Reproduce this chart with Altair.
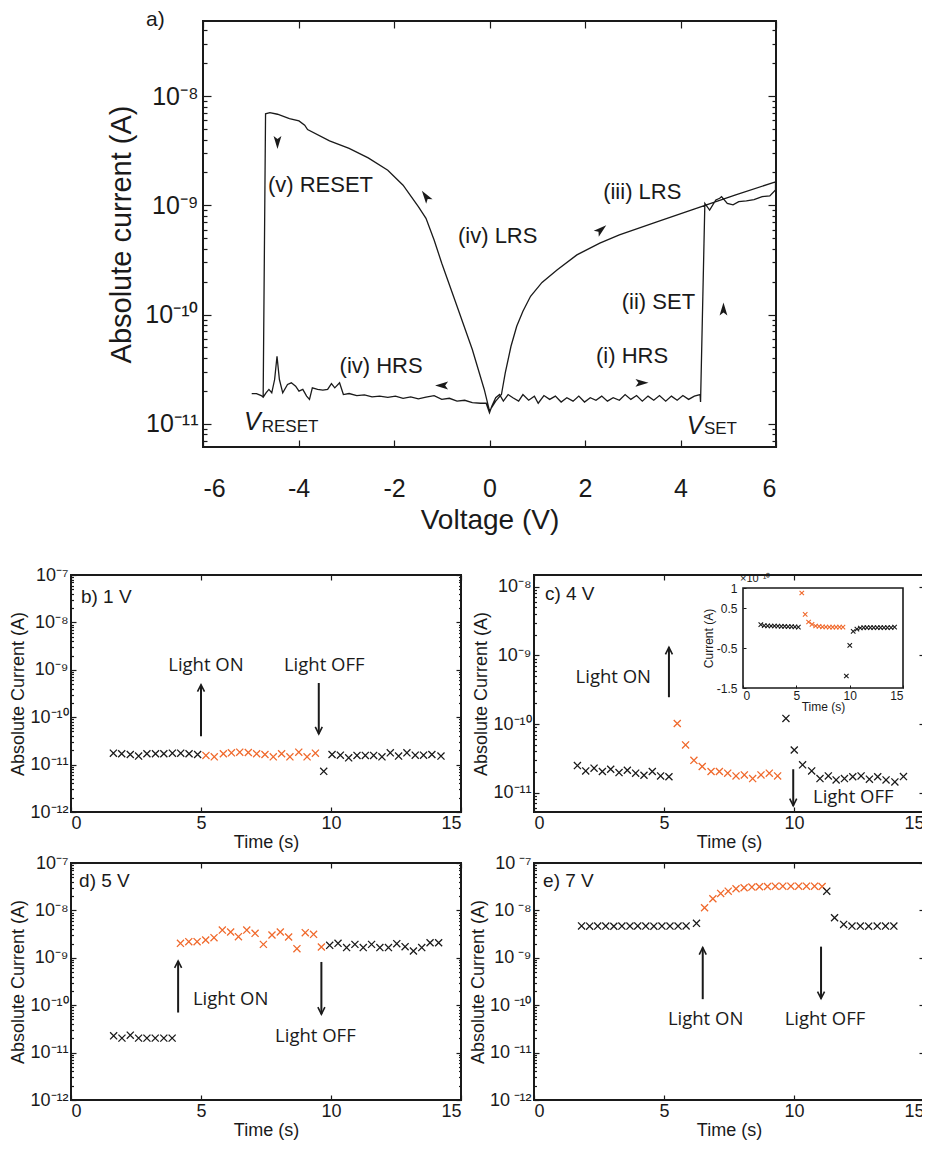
import altair as alt
import pandas as pd

# ------------------------------------------------------------------
# (a) I-V sweep, read off the picture, in measurement order
# ------------------------------------------------------------------
NEG_HRS_V = [-4.98, -4.88, -4.78, -4.74, -4.68, -4.62, -4.56, -4.50, -4.45, -4.40,
             -4.33, -4.23, -4.15, -4.06, -3.99, -3.91, -3.83, -3.77, -3.71, -3.60,
             -3.49, -3.39, -3.31, -3.24, -3.14, -3.06, -2.94, -2.78, -2.62, -2.46,
             -2.30, -2.13, -1.97, -1.81, -1.65, -1.49, -1.33, -1.16, -1.00, -0.84,
             -0.68, -0.52, -0.36, -0.19, -0.07, 0.0]
NEG_HRS_I = [1.89e-11, 1.89e-11, 1.81e-11, 1.75e-11, 1.92e-11, 2.06e-11, 1.92e-11, 2.54e-11, 4.15e-11, 2.54e-11,
             1.92e-11, 2.29e-11, 2.37e-11, 2.21e-11, 1.99e-11, 2.06e-11, 1.79e-11, 1.67e-11, 2.13e-11, 2.06e-11,
             2.03e-11, 2.06e-11, 2.33e-11, 2.13e-11, 2.37e-11, 1.85e-11, 1.89e-11, 1.81e-11, 1.84e-11, 1.76e-11,
             1.79e-11, 1.74e-11, 1.79e-11, 1.71e-11, 1.76e-11, 1.69e-11, 1.75e-11, 1.81e-11, 1.67e-11, 1.71e-11,
             1.61e-11, 1.64e-11, 1.56e-11, 1.54e-11, 1.54e-11, 1.26e-11]
POS_HRS_V = [0.05, 0.13, 0.21, 0.29, 0.39, 0.49, 0.61, 0.70, 0.82, 0.94,
             1.02, 1.14, 1.26, 1.38, 1.50, 1.62, 1.75, 1.87, 1.99, 2.11,
             2.23, 2.35, 2.47, 2.59, 2.72, 2.84, 2.96, 3.08, 3.20, 3.32,
             3.44, 3.56, 3.69, 3.81, 3.93, 4.05, 4.17, 4.29, 4.41, 4.42]
POS_HRS_I = [1.45e-11, 1.73e-11, 1.85e-11, 1.61e-11, 1.85e-11, 1.73e-11, 1.61e-11, 1.85e-11, 1.64e-11, 1.79e-11,
             1.54e-11, 1.81e-11, 1.67e-11, 1.79e-11, 1.58e-11, 1.73e-11, 1.61e-11, 1.79e-11, 1.58e-11, 1.73e-11,
             1.64e-11, 1.79e-11, 1.61e-11, 1.73e-11, 1.64e-11, 1.85e-11, 1.67e-11, 1.81e-11, 1.61e-11, 1.79e-11,
             1.64e-11, 1.81e-11, 1.61e-11, 1.79e-11, 1.64e-11, 1.81e-11, 1.67e-11, 1.79e-11, 1.85e-11, 1.58e-11]
SET_V = [4.51, 4.61, 4.74, 4.82, 4.86, 4.98, 5.10, 5.22, 5.38, 5.54, 5.71, 5.87, 5.99]
SET_I = [1.04e-9, 9.06e-10, 1.12e-9, 1.16e-9, 1.20e-9, 1.04e-9, 1.01e-9, 1.08e-9, 1.10e-9, 1.13e-9,
         1.20e-9, 1.22e-9, 1.38e-9]
LRS_POS_V = [5.99, 5.14, 4.33, 3.52, 2.72, 2.31, 1.83, 1.42, 1.10, 0.86, 0.70, 0.57, 0.45, 0.33, 0.25, 0.13, 0.0]
LRS_POS_I = [1.64e-9, 1.24e-9, 9.39e-10, 7.09e-10, 5.36e-10, 4.50e-10, 3.52e-10, 2.57e-10, 1.97e-10,
             1.47e-10, 1.07e-10, 7.80e-11, 5.12e-11, 2.92e-11, 1.85e-11, 1.61e-11, 1.31e-11]
LRS_NEG_V = [-0.11, -0.36, -0.68, -1.00, -1.16, -1.33, -1.49, -1.81, -2.13, -2.54,
             -2.94, -3.35, -3.81, -3.87, -3.99, -4.19, -4.44, -4.60, -4.69, -4.74]
LRS_NEG_I = [2.06e-11, 4.78e-11, 1.19e-10, 2.95e-10, 4.82e-10, 7.60e-10, 9.72e-10, 1.53e-9, 2.10e-9, 2.72e-9,
             3.32e-9, 3.90e-9, 4.94e-9, 5.42e-9, 5.93e-9, 6.23e-9, 6.83e-9, 7.07e-9, 6.90e-9, 1.75e-11]

A_ARROW_V = [-4.44, -1.33, 2.33, 4.90, 3.18, -0.99]
A_ARROW_I = [3.81e-9, 1.20e-9, 5.96e-10, 1.11e-10, 2.37e-11, 2.24e-11]
A_ARROW_ANG = [180, 325, 50, 0, 90, 270]

A_LAB_TEXT = ["(v) RESET", "(iv) LRS", "(iii) LRS", "(ii) SET", "(i) HRS", "(iv) HRS"]
A_LAB_V = [-4.64, -0.66, 2.38, 2.77, 2.23, -3.14]
A_LAB_I = [1.53e-9, 5.25e-10, 1.33e-9, 1.29e-10, 4.21e-11, 3.41e-11]
A_VSYM_V = [-5.14, 4.13]
A_VSYM_I = [1.04e-11, 9.5e-12]
A_SUB_TEXT = ["RESET", "SET"]
A_SUB_V = [-4.77, 4.49]
A_SUB_I = [9.3e-12, 8.9e-12]

A_XTICKS = [-6, -4, -2, 0, 2, 4, 6]
A_EXPS = [-8, -9, -10, -11]
A_YDOM = [6.12e-12, 4.88e-8]

# ------------------------------------------------------------------
# (b)-(e) photo-response time traces
# ------------------------------------------------------------------
T_TICKS = [0, 5, 10, 15]

B_TIME = [1.63, 1.95, 2.28, 2.60, 2.92, 3.25, 3.57, 3.90, 4.22, 4.54, 4.87,
          5.19, 5.51, 5.86, 6.17, 6.49, 6.82, 7.14, 7.46, 7.78, 8.10, 8.42, 8.76, 9.08, 9.40,
          9.72, 10.04, 10.36, 10.68, 11.00, 11.32, 11.64, 11.96, 12.28, 12.60, 12.92, 13.24, 13.56, 13.88, 14.23]
B_CURR = [1.74e-11, 1.69e-11, 1.63e-11, 1.51e-11, 1.69e-11, 1.69e-11, 1.69e-11, 1.74e-11, 1.74e-11, 1.69e-11, 1.63e-11,
          1.56e-11, 1.46e-11, 1.69e-11, 1.77e-11, 1.83e-11, 1.80e-11, 1.69e-11, 1.63e-11, 1.46e-11, 1.69e-11, 1.46e-11,
          1.83e-11, 1.46e-11, 1.74e-11,
          7.2e-12, 1.63e-11, 1.58e-11, 1.39e-11, 1.56e-11, 1.56e-11, 1.56e-11, 1.46e-11, 1.77e-11, 1.51e-11, 1.77e-11,
          1.58e-11, 1.58e-11, 1.63e-11, 1.51e-11]
B_STATE = ["dark"] * 11 + ["light"] * 14 + ["dark"] * 15
B_ARROW_T = [5.0, 9.53]
B_ARROW_FROM = [3.97e-11, 5.26e-10]
B_ARROW_TO = [4.85e-10, 4.45e-11]
B_TEXT_T = [5.19, 9.74]
B_TEXT_I = [1.28e-9, 1.28e-9]

C_TIME = [1.67, 1.99, 2.31, 2.63, 2.95, 3.27, 3.59, 3.91, 4.23, 4.55, 4.87, 5.19,
          5.51, 5.83, 6.15, 6.47, 6.81, 7.13, 7.45, 7.77, 8.09, 8.41, 8.73, 9.05, 9.37,
          9.69, 10.01, 10.33, 10.68, 11.00, 11.32, 11.62, 11.94, 12.26, 12.58, 12.90, 13.22, 13.54, 13.88, 14.21]
C_CURR = [2.49e-11, 2.08e-11, 2.28e-11, 2.04e-11, 2.20e-11, 1.97e-11, 2.13e-11, 1.93e-11, 1.80e-11, 2.04e-11,
          1.76e-11, 1.71e-11,
          1.02e-10, 4.97e-11, 2.97e-11, 2.41e-11, 2.04e-11, 2.04e-11, 1.93e-11, 1.76e-11, 1.82e-11, 1.61e-11,
          1.82e-11, 1.93e-11, 1.76e-11,
          1.21e-10, 4.20e-11, 2.55e-11, 2.08e-11, 1.61e-11, 1.76e-11, 1.54e-11, 1.61e-11, 1.71e-11, 1.76e-11,
          1.58e-11, 1.71e-11, 1.54e-11, 1.44e-11, 1.72e-11]
C_STATE = ["dark"] * 12 + ["light"] * 13 + ["dark"] * 15
C_INSET = [0.083, 0.06, 0.055, 0.05, 0.05, 0.045, 0.04, 0.04, 0.035, 0.035, 0.03, 0.02,
           0.875, 0.342, 0.15, 0.09, 0.05, 0.04, 0.03, 0.025, 0.02, 0.02, 0.02, 0.02, 0.02,
           -1.2, -0.433, -0.083, -0.03, 0.0, 0.01, 0.01, 0.01, 0.01, 0.01, 0.01, 0.01, 0.01, 0.01, 0.02]
C_ARROW_T = [5.19, 9.97]
C_ARROW_FROM = [2.46e-10, 2.20e-11]
C_ARROW_TO = [1.31e-9, 6.49e-12]
C_TEXT_T = [3.05, 12.28]
C_TEXT_I = [4.8e-10, 8.75e-12]
C_YDOM = [5.25e-12, 1.48e-8]
C_EXPS = [-8, -9, -10, -11]

D_TIME = [1.64, 1.96, 2.28, 2.60, 2.92, 3.24, 3.57, 3.89,
          4.21, 4.53, 4.85, 5.18, 5.50, 5.82, 6.14, 6.44, 6.76, 7.08, 7.40, 7.73, 8.05, 8.37, 8.69, 9.01,
          9.33, 9.63,
          9.95, 10.27, 10.60, 10.92, 11.24, 11.56, 11.88, 12.21, 12.53, 12.85, 13.17, 13.49, 13.81, 14.14]
D_CURR = [2.26e-11, 2.02e-11, 2.33e-11, 2.02e-11, 2.02e-11, 2.02e-11, 2.02e-11, 2.02e-11,
          2.02e-9, 2.19e-9, 2.19e-9, 2.37e-9, 2.66e-9, 3.85e-9, 3.50e-9, 2.79e-9, 3.85e-9, 3.28e-9, 1.92e-9,
          3.03e-9, 3.50e-9, 2.75e-9, 1.56e-9, 3.39e-9, 3.13e-9, 1.69e-9,
          1.83e-9, 2.02e-9, 1.64e-9, 1.92e-9, 1.64e-9, 1.92e-9, 1.64e-9, 1.64e-9, 1.99e-9, 1.72e-9, 1.39e-9,
          1.64e-9, 2.08e-9, 2.08e-9]
D_STATE = ["dark"] * 8 + ["light"] * 18 + ["dark"] * 14
D_ARROW_T = [4.12, 9.63]
D_ARROW_FROM = [7.0e-11, 8.17e-10]
D_ARROW_TO = [8.57e-10, 6.47e-11]
D_TEXT_T = [6.14, 9.40]
D_TEXT_I = [1.38e-10, 2.19e-11]

E_TIME = [1.83, 2.14, 2.45, 2.76, 3.07, 3.38, 3.69, 3.99, 4.30, 4.61, 4.92, 5.23, 5.54, 5.85, 6.25,
          6.56, 6.88, 7.18, 7.47, 7.77, 8.08, 8.38, 8.67, 8.98, 9.28, 9.57, 9.88, 10.18, 10.48, 10.79, 11.08,
          11.26, 11.56, 11.91, 12.23, 12.55, 12.87, 13.20, 13.52, 13.84]
E_CURR = [4.70e-9, 4.65e-9, 4.67e-9, 4.67e-9, 4.62e-9, 4.67e-9, 4.67e-9, 4.70e-9, 4.67e-9, 4.65e-9,
          4.67e-9, 4.67e-9, 4.67e-9, 4.70e-9, 5.33e-9,
          1.14e-8, 1.76e-8, 2.28e-8, 2.55e-8, 2.86e-8, 3.00e-8, 3.10e-8, 3.15e-8, 3.20e-8, 3.25e-8,
          3.25e-8, 3.25e-8, 3.25e-8, 3.25e-8, 3.25e-8, 3.20e-8,
          2.55e-8, 7.01e-9, 5.07e-9, 4.67e-9, 4.67e-9, 4.65e-9, 4.67e-9, 4.67e-9, 4.67e-9]
E_STATE = ["dark"] * 15 + ["light"] * 16 + ["dark"] * 9
E_ARROW_T = [6.49, 11.04]
E_ARROW_FROM = [1.34e-10, 1.72e-9]
E_ARROW_TO = [1.64e-9, 1.38e-10]
E_TEXT_T = [6.60, 11.19]
E_TEXT_I = [5.07e-11, 5.07e-11]

LIGHT_TEXT = ["Light ON", "Light OFF"]
LIGHT_ANG = [0, 180]
BIG_YDOM = [1e-12, 1e-7]
BIG_EXPS = [-7, -8, -9, -10, -11, -12]

# ------------------------------------------------------------------
# styling helpers
# ------------------------------------------------------------------
FONT = "Liberation Sans"
LFONT = "Open Sans"
INK = "#1a1a1a"
ORANGE = "#F0692C"
XSHAPE = "M-1,-1L1,1M1,-1L-1,1"
CHEV = "M-0.7,1.4L0,0L0.7,1.4"
HEAD = "M0,-1.1L0.6,0.9L0,0.45L-0.6,0.9Z"
SUP = {"-": "\u207b", "0": "\u2070", "1": "\u00b9", "2": "\u00b2", "3": "\u00b3", "4": "\u2074",
       "5": "\u2075", "6": "\u2076", "7": "\u2077", "8": "\u2078", "9": "\u2079"}
NUM_EXPR = "'' + datum.value"


def pow_expr(exps, gap=""):
    parts = []
    for e in exps:
        s = "".join(SUP[c] for c in str(e))
        parts.append("abs(log(datum.value)/LN10 - (%d)) < 0.01 ? '10%s%s'" % (e, gap, s))
    return " : ".join(parts) + " : ''"


def minor_vals(lo, hi):
    out = []
    for e in range(-13, -6):
        for m in range(2, 10):
            v = float("%de%d" % (m, e))
            if lo < v < hi:
                out.append(v)
    return out


def axis(orient, values, ts, labels=False, fs=18, lp=3, expr=NUM_EXPR, title=None, tfs=18, tp=2,
         off=None, z=0):
    kw = dict(orient=orient, values=values, tickSize=ts, offset=(-ts if off is None else off),
              domain=False, grid=False, ticks=True, tickColor=INK, tickWidth=1.2, labels=labels,
              zindex=z)
    if labels:
        kw.update(labelFont=FONT, labelFontSize=fs, labelColor=INK, labelPadding=lp,
                  labelOverlap=False, labelExpr=expr)
    if title is None:
        kw["title"] = None
    else:
        kw.update(title=title, titleFont=FONT, titleFontSize=tfs, titleColor=INK,
                  titleFontWeight="normal", titlePadding=tp)
    return alt.Axis(**kw)


def frame(xs, ys, px, py, xvals, yvals, ymin, ts, tsm):
    d = pd.DataFrame({"fx": [px], "fy": [py]})
    base = alt.Chart(d).mark_point(opacity=0)
    out = [base.encode(x=alt.X("fx:Q", scale=xs, axis=axis("top", xvals, ts)),
                       y=alt.Y("fy:Q", scale=ys, axis=axis("right", yvals, ts)))]
    out.append(base.encode(x=alt.X("fx:Q", scale=xs, axis=None),
                           y=alt.Y("fy:Q", scale=ys, axis=axis("left", ymin, tsm))))
    out.append(base.encode(x=alt.X("fx:Q", scale=xs, axis=None),
                           y=alt.Y("fy:Q", scale=ys, axis=axis("right", ymin, tsm))))
    return out


STATE_COLOR = alt.Color("s:N", scale=alt.Scale(domain=["dark", "light"], range=[INK, ORANGE]), legend=None)

# layout (pixels)
W, H = 390, 237            # lower panels
A_CELL, A_H = 390, 426     # panel (a): grid cell width and plot height
A_LEFT, A_RIGHT = 132, 705 # panel (a) plot extent inside its cell
ROW_GAP = 51

# ------------------------------------------------------------------
# panel (a)
# ------------------------------------------------------------------
iv_v = NEG_HRS_V + POS_HRS_V + SET_V + LRS_POS_V + LRS_NEG_V
iv_i = NEG_HRS_I + POS_HRS_I + SET_I + LRS_POS_I + LRS_NEG_I
df_iv = pd.DataFrame({"v": iv_v, "i": iv_i, "k": list(range(len(iv_v)))})
xs_a = alt.Scale(domain=[-6, 6], range=[A_LEFT, A_RIGHT], nice=False, zero=False)
ys_a = alt.Scale(type="log", domain=A_YDOM, nice=False)
A_YTICKS = [10.0 ** e for e in A_EXPS]
A_MINOR = minor_vals(*A_YDOM)

line_a = alt.Chart(df_iv).mark_line(color=INK, strokeWidth=1.3).encode(
    x=alt.X("v:Q", scale=xs_a, axis=axis("bottom", A_XTICKS, 7, labels=True, fs=25, lp=29,
                                         title="Voltage (V)", tfs=28, tp=5)),
    y=alt.Y("i:Q", scale=ys_a, axis=axis("left", A_YTICKS, 8, labels=True, fs=25, lp=5,
                                         expr=pow_expr(A_EXPS), title="Absolute current (A)",
                                         tfs=29, tp=8, off=-(A_LEFT + 8))),
    order="k:Q")

a_box = alt.Chart(pd.DataFrame({"x0": [-6], "x1": [6], "y0": [A_YDOM[0]], "y1": [A_YDOM[1]]})).mark_rect(
    fill="transparent", stroke=INK, strokeWidth=2).encode(
    x=alt.X("x0:Q", scale=xs_a, axis=None), x2="x1:Q",
    y=alt.Y("y0:Q", scale=ys_a, axis=None), y2="y1:Q")

a_base = alt.Chart(pd.DataFrame({"fx": [0], "fy": [1e-10]})).mark_point(opacity=0)
a_top = a_base.encode(
    x=alt.X("fx:Q", scale=xs_a, axis=axis("top", A_XTICKS, 7)),
    y=alt.Y("fy:Q", scale=ys_a, axis=axis("right", A_YTICKS, 8, off=A_RIGHT - A_CELL - 8)))
a_minl = a_base.encode(
    x=alt.X("fx:Q", scale=xs_a, axis=None),
    y=alt.Y("fy:Q", scale=ys_a, axis=axis("left", A_MINOR, 4, off=-(A_LEFT + 4))))
a_minr = a_base.encode(
    x=alt.X("fx:Q", scale=xs_a, axis=None),
    y=alt.Y("fy:Q", scale=ys_a, axis=axis("right", A_MINOR, 4, off=A_RIGHT - A_CELL - 4)))

heads_a = alt.Chart(pd.DataFrame({"v": A_ARROW_V, "i": A_ARROW_I, "a": A_ARROW_ANG})).mark_point(
    shape=HEAD, filled=True, size=170, color=INK, opacity=1, strokeWidth=0).encode(
    x=alt.X("v:Q", scale=xs_a, axis=None), y=alt.Y("i:Q", scale=ys_a, axis=None),
    angle=alt.Angle("a:Q", scale=None))

labs_a = alt.Chart(pd.DataFrame({"v": A_LAB_V, "i": A_LAB_I, "t": A_LAB_TEXT})).mark_text(
    font=FONT, fontSize=22, color=INK, align="left", baseline="middle").encode(
    x=alt.X("v:Q", scale=xs_a, axis=None), y=alt.Y("i:Q", scale=ys_a, axis=None), text="t:N")

vsym_a = alt.Chart(pd.DataFrame({"v": A_VSYM_V, "i": A_VSYM_I, "t": ["V", "V"]})).mark_text(
    font=FONT, fontSize=25, fontStyle="italic", color=INK, align="left", baseline="middle").encode(
    x=alt.X("v:Q", scale=xs_a, axis=None), y=alt.Y("i:Q", scale=ys_a, axis=None), text="t:N")

sub_a = alt.Chart(pd.DataFrame({"v": A_SUB_V, "i": A_SUB_I, "t": A_SUB_TEXT})).mark_text(
    font=FONT, fontSize=17, color=INK, align="left", baseline="middle").encode(
    x=alt.X("v:Q", scale=xs_a, axis=None), y=alt.Y("i:Q", scale=ys_a, axis=None), text="t:N")

panel_a = alt.layer(
    line_a, a_box, a_top, a_minl, a_minr, heads_a, labs_a, vsym_a, sub_a
).resolve_axis(x="independent", y="independent").properties(
    width=A_CELL, height=A_H, view=alt.ViewBackground(stroke="transparent"),
    title=alt.TitleParams("a)", anchor="start", frame="group", dx=75, offset=-10,
                          font=FONT, fontSize=21, fontWeight="normal", color=INK))


# ------------------------------------------------------------------
# panels (b)-(e)
# ------------------------------------------------------------------
def time_layers(time, curr, state, ydom, exps, arr_t, arr_from, arr_to, txt_t, txt_i,
                tag, tag_t, tag_i, gap=""):
    xs = alt.Scale(domain=[0, 15], nice=False, zero=False)
    ys = alt.Scale(type="log", domain=ydom, nice=False)
    yt = [10.0 ** e for e in exps]
    df = pd.DataFrame({"t": time, "i": curr, "s": state})
    pts = alt.Chart(df).mark_point(shape=XSHAPE, filled=False, size=50, strokeWidth=1.3, opacity=1).encode(
        x=alt.X("t:Q", scale=xs, axis=axis("bottom", T_TICKS, 5, labels=True, fs=18, lp=2,
                                           title="Time (s)", tfs=18, tp=1)),
        y=alt.Y("i:Q", scale=ys, axis=axis("left", yt, 5, labels=True, fs=18, lp=3,
                                           expr=pow_expr(exps, gap), title="Absolute Current (A)",
                                           tfs=18, tp=2)),
        color=STATE_COLOR)
    da = pd.DataFrame({"t": arr_t, "a0": arr_from, "a1": arr_to, "ang": LIGHT_ANG})
    shaft = alt.Chart(da).mark_rule(color=INK, strokeWidth=2).encode(
        x=alt.X("t:Q", scale=xs, axis=None), y=alt.Y("a0:Q", scale=ys, axis=None), y2="a1:Q")
    head = alt.Chart(da).mark_point(shape=CHEV, filled=False, size=100, strokeWidth=1.6,
                                    color=INK, opacity=1).encode(
        x=alt.X("t:Q", scale=xs, axis=None), y=alt.Y("a1:Q", scale=ys, axis=None),
        angle=alt.Angle("ang:Q", scale=None))
    words = alt.Chart(pd.DataFrame({"t": txt_t, "i": txt_i, "w": LIGHT_TEXT})).mark_text(
        font=LFONT, fontSize=18.5, color=INK, align="center", baseline="middle").encode(
        x=alt.X("t:Q", scale=xs, axis=None), y=alt.Y("i:Q", scale=ys, axis=None), text="w:N")
    tagm = alt.Chart(pd.DataFrame({"t": [tag_t], "i": [tag_i], "w": [tag]})).mark_text(
        font=FONT, fontSize=19, color=INK, align="left", baseline="middle").encode(
        x=alt.X("t:Q", scale=xs, axis=None), y=alt.Y("i:Q", scale=ys, axis=None), text="w:N")
    mid = (ydom[0] * ydom[1]) ** 0.5
    return [pts, shaft, head, words, tagm] + frame(xs, ys, 7.5, mid, T_TICKS, yt, minor_vals(*ydom), 5, 2.5)


panel_b = alt.layer(*time_layers(
    B_TIME, B_CURR, B_STATE, BIG_YDOM, BIG_EXPS, B_ARROW_T, B_ARROW_FROM, B_ARROW_TO,
    B_TEXT_T, B_TEXT_I, "b) 1 V", 0.38, 3.45e-8)
).resolve_axis(x="independent", y="independent").properties(width=W, height=H)

# inset of (c): signed current, linear scale, placed inside the panel through its scale ranges
IN_LEFT, IN_RIGHT, IN_TOP, IN_BOTTOM = 209, 369, 13, 113
xs_in = alt.Scale(domain=[0, 15], range=[IN_LEFT, IN_RIGHT], nice=False, zero=False)
ys_in = alt.Scale(domain=[-1.5, 1], range=[IN_BOTTOM, IN_TOP], nice=False, zero=False)
in_xaxis = alt.Axis(orient="bottom", values=T_TICKS, offset=-(H - IN_BOTTOM + 3), tickSize=3, zindex=2,
                    domain=False, grid=False, ticks=True, tickColor=INK, tickWidth=1, labels=True,
                    labelFont=FONT, labelFontSize=12,
                    labelColor=INK, labelPadding=2, labelExpr=NUM_EXPR, labelOverlap=False,
                    title="Time (s)", titleFont=FONT, titleFontSize=12, titleFontWeight="normal",
                    titleColor=INK, titlePadding=0)
in_yaxis = alt.Axis(orient="left", values=[-1.5, -0.5, 0.5, 1], offset=-(IN_LEFT + 3), tickSize=3, zindex=2,
                    domain=False, grid=False, ticks=True, tickColor=INK, tickWidth=1, labels=True,
                    labelFont=FONT, labelFontSize=12,
                    labelColor=INK, labelPadding=6, labelExpr=NUM_EXPR, labelOverlap=False,
                    title="Current (A)", titleFont=FONT, titleFontSize=12, titleFontWeight="normal",
                    titleColor=INK, titlePadding=1)
in_box = alt.Chart(pd.DataFrame({"x0": [0], "x1": [15], "y0": [-1.5], "y1": [1]})).mark_rect(
    fill="white", stroke=INK, strokeWidth=1.6).encode(
    x=alt.X("x0:Q", scale=xs_in, axis=None), x2="x1:Q",
    y=alt.Y("y0:Q", scale=ys_in, axis=None), y2="y1:Q")
in_axes = alt.Chart(pd.DataFrame({"t": [7.5], "v": [0.0]})).mark_point(opacity=0).encode(
    x=alt.X("t:Q", scale=xs_in, axis=in_xaxis), y=alt.Y("v:Q", scale=ys_in, axis=in_yaxis))
in_pts = alt.Chart(pd.DataFrame({"t": C_TIME, "v": C_INSET, "s": C_STATE})).mark_point(
    shape=XSHAPE, filled=False, size=20, strokeWidth=1.1, opacity=1).encode(
    x=alt.X("t:Q", scale=xs_in, axis=None), y=alt.Y("v:Q", scale=ys_in, axis=None), color=STATE_COLOR)
in_exp = alt.Chart(pd.DataFrame({"t": [0], "v": [1], "w": ["\u00d710\u207b\u00b9\u2070"]})).mark_text(
    font=FONT, fontSize=11, color=INK, align="left", baseline="middle", dx=-3, dy=-9).encode(
    x=alt.X("t:Q", scale=xs_in, axis=None), y=alt.Y("v:Q", scale=ys_in, axis=None), text="w:N")

panel_c = alt.layer(
    *time_layers(C_TIME, C_CURR, C_STATE, C_YDOM, C_EXPS, C_ARROW_T, C_ARROW_FROM, C_ARROW_TO,
                 C_TEXT_T, C_TEXT_I, "c) 4 V", 0.42, 7.8e-9),
    in_box, in_axes, in_pts, in_exp
).resolve_scale(x="independent", y="independent").properties(width=W, height=H)

panel_d = alt.layer(*time_layers(
    D_TIME, D_CURR, D_STATE, BIG_YDOM, BIG_EXPS, D_ARROW_T, D_ARROW_FROM, D_ARROW_TO,
    D_TEXT_T, D_TEXT_I, "d) 5 V", 0.31, 4.19e-8)
).resolve_axis(x="independent", y="independent").properties(width=W, height=H)

panel_e = alt.layer(*time_layers(
    E_TIME, E_CURR, E_STATE, BIG_YDOM, BIG_EXPS, E_ARROW_T, E_ARROW_FROM, E_ARROW_TO,
    E_TEXT_T, E_TEXT_I, "e) 7 V", 0.35, 4.19e-8, gap="\u2009")
).resolve_axis(x="independent", y="independent").properties(width=W, height=H)

spacer = alt.Chart(pd.DataFrame({"s": [0]})).mark_point(opacity=0).encode(
    x=alt.X("s:Q", axis=None), y=alt.Y("s:Q", axis=None)).properties(
    width=1, height=503, view=alt.ViewBackground(stroke="transparent"))

chart = alt.concat(
    panel_a, spacer, panel_b, panel_c, panel_d, panel_e,
    columns=2, spacing={"row": ROW_GAP, "column": 73},
    align="each", bounds="flush"
).properties(
    padding={"left": 0, "top": 0, "right": -4, "bottom": 0}, background="white"
).configure(font=FONT).configure_view(stroke=INK, strokeWidth=2)

chart.save("out.html", embed_options={"renderer": "svg", "actions": False})
